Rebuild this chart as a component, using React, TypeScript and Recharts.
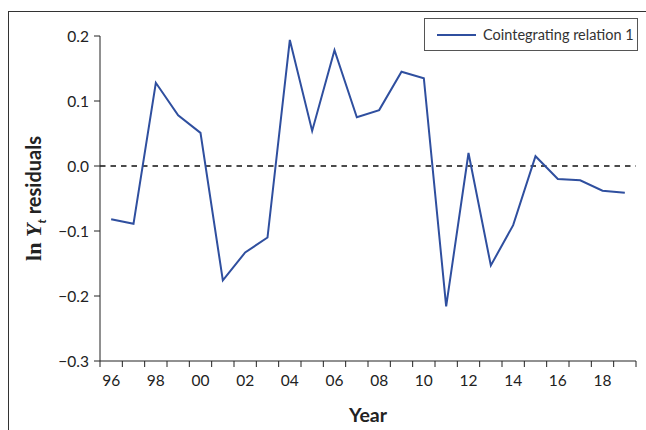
import React from "react";
import {
  LineChart,
  Line,
  XAxis,
  YAxis,
  ReferenceLine,
  Legend,
  Label,
} from "recharts";

const years = [
  1996, 1997, 1998, 1999, 2000, 2001, 2002, 2003, 2004, 2005, 2006, 2007,
  2008, 2009, 2010, 2011, 2012, 2013, 2014, 2015, 2016, 2017, 2018, 2019,
];

const residuals = [
  -0.082, -0.089, 0.128, 0.078, 0.051, -0.176, -0.133, -0.11, 0.194, 0.054,
  0.178, 0.075, 0.086, 0.145, 0.135, -0.216, 0.02, -0.153, -0.091, 0.015,
  -0.02, -0.022, -0.038, -0.041,
];

const labelYears = [1996, 1998, 2000, 2002, 2004, 2006, 2008, 2010, 2012, 2014, 2016, 2018];
const yearLabels = ["96", "98", "00", "02", "04", "06", "08", "10", "12", "14", "16", "18"];

const yTicks = [-0.3, -0.2, -0.1, 0, 0.1, 0.2];

const seriesName = "Cointegrating relation 1";

const data = years.map((year, i) => ({ year, value: residuals[i] }));

// tick marks sit on the category edges, labels in the middle
const edges = [...years.map((y) => y - 0.5), years[years.length - 1] + 0.5];
const domain: [number, number] = [edges[0], edges[edges.length - 1]];

const axisColor = "#222";
const lineColor = "#2f4f9f";
const font = "Lato, 'Open Sans', sans-serif";

const fmtY = (v: number) => {
  const s = Math.abs(v).toFixed(1);
  return v < 0 ? `\u2212${s}` : s;
};

const YLabel = (props: any) => {
  const vb = props.viewBox || {};
  const x = vb.x + 33;
  const y = vb.y + vb.height / 2;
  return (
    <text
      x={x}
      y={y}
      transform={`rotate(-90, ${x}, ${y})`}
      textAnchor="middle"
      fontSize={20}
      fontWeight="bold"
      fill={axisColor}
      fontFamily={font}
    >
      <tspan fontFamily="'Liberation Serif', serif" fontSize={22}>ln </tspan>
      <tspan fontFamily="'Liberation Serif', serif" fontStyle="italic" fontSize={22}>
        Y
      </tspan>
      <tspan fontSize={12} fontStyle="italic" dy={5}>
        t
      </tspan>
      <tspan dy={-5}> residuals</tspan>
    </text>
  );
};

const LegendBox = () => (
  <div
    style={{
      border: "1px solid #555",
      width: 212,
      height: 31,
      display: "flex",
      alignItems: "center",
      background: "#fff",
      fontFamily: font,
      fontSize: 14.5,
      color: "#333",
    }}
  >
    <svg width={58} height={10}>
      <line x1={12} x2={51} y1={5} y2={5} stroke={lineColor} strokeWidth={2} />
    </svg>
    <span>{seriesName}</span>
  </div>
);

export default function App() {
  return (
    <div style={{ position: "absolute", left: 0, top: 0, width: 646, height: 430, background: "#fff" }}>
      <div
        style={{
          position: "absolute",
          left: 8,
          top: 11,
          width: 638,
          height: 419,
          borderTop: "1px solid #333",
          borderLeft: "1px solid #333",
          boxSizing: "border-box",
        }}
      />
      <LineChart
        width={646}
        height={430}
        data={data}
        margin={{ top: 36, right: 10, bottom: 0, left: 8 }}
        style={{ position: "absolute", left: 0, top: 0 }}
      >
        <XAxis
          xAxisId="edges"
          type="number"
          dataKey="year"
          domain={domain}
          ticks={edges}
          tickFormatter={() => ""}
          stroke={axisColor}
          tickSize={6}
          height={1}
          allowDataOverflow
        />
        <XAxis
          xAxisId="labels"
          type="number"
          dataKey="year"
          domain={domain}
          ticks={labelYears}
          tickFormatter={(v) => yearLabels[labelYears.indexOf(v)]}
          axisLine={false}
          tickLine={false}
          tickSize={0}
          tickMargin={13}
          height={68}
          tick={{ fontSize: 15.5, fill: axisColor, fontFamily: font }}
        >
          <Label
            value="Year"
            position="insideBottom"
            offset={8}
            style={{ fontSize: 19.5, fontWeight: "bold", fill: axisColor, fontFamily: font }}
          />
        </XAxis>
        <YAxis
          type="number"
          domain={[-0.3, 0.2]}
          ticks={yTicks}
          tickFormatter={fmtY}
          stroke={axisColor}
          tickSize={6}
          tickMargin={5}
          width={92}
          tick={{ fontSize: 15.5, fill: axisColor, fontFamily: font }}
        >
          <Label content={<YLabel />} />
        </YAxis>
        <ReferenceLine y={0} xAxisId="edges" stroke="#111" strokeDasharray="5.5 5" strokeWidth={1.3} />
        <Legend
          verticalAlign="middle"
          align="center"
          layout="horizontal"
          content={<LegendBox />}
          wrapperStyle={{ position: "absolute", top: 18, left: 424, width: 214 }}
        />
        <Line
          xAxisId="edges"
          dataKey="value"
          name={seriesName}
          stroke={lineColor}
          strokeWidth={2}
          dot={false}
          isAnimationActive={false}
        />
      </LineChart>
    </div>
  );
}
